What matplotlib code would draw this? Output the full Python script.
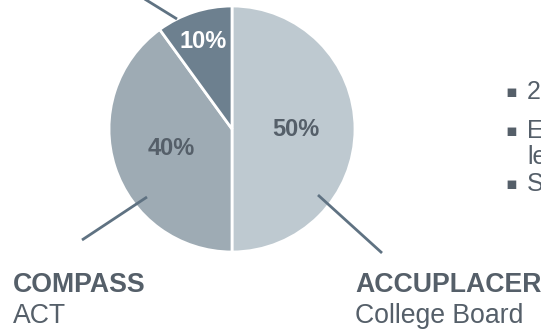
import numpy as np
import matplotlib.pyplot as plt

plt.rcParams['font.family'] = ['Liberation Sans', 'DejaVu Sans']

shares = [50, 40, 10]
tests = ['ACCUPLACER', 'COMPASS', 'Other']
vendors = ['College Board', 'ACT', '']
colors = ['#bec9d0', '#9eabb4', '#6d808f']
pct_colors = ['#555f69', '#555f69', 'white']
bullets = ['2', 'E', 'le', 'S']

W, H = 541, 333
fig = plt.figure(figsize=(W / 100, H / 100), dpi=100)
ax = fig.add_axes([0, 0, 1, 1])
ax.set_xlim(0, W)
ax.set_ylim(0, H)
ax.set_aspect('equal')
ax.axis('off')

cx, cy, r = 232, H - 129, 123
wedges, texts, autotexts = ax.pie(
    shares, colors=colors, startangle=90, counterclock=False,
    center=(cx, cy), radius=r, autopct=lambda p: f'{p:.0f}%',
    pctdistance=0.52, wedgeprops=dict(edgecolor='white', linewidth=2),
    textprops=dict(fontsize=17, fontweight='bold'))
ax.set_xlim(0, W)
ax.set_ylim(0, H)

for t, c, s in zip(autotexts, pct_colors, shares):
    t.set_color(c)
    if s < 20:
        x, y = t.get_position()
        k = 0.75 / 0.52
        t.set_position((cx + (x - cx) * k, cy + (y - cy) * k))

# leader lines (pixel coords, y from top)
line_col = '#5f7282'
leaders = [((143, -2), (177, 19)), ((82, 240), (147, 197)), ((318, 195), (382, 253))]
for (x0, y0), (x1, y1) in leaders:
    ax.plot([x0, x1], [H - y0, H - y1], color=line_col, lw=2, solid_capstyle='butt')

txt_col = '#555f69'
ax.text(13, H - 285, tests[1], fontsize=19.2, fontweight='bold', color=txt_col, va='center')
ax.text(13, H - 316, vendors[1], fontsize=19.2, color=txt_col, va='center')
ax.text(355, H - 285, tests[0], fontsize=19.2, fontweight='bold', color=txt_col, va='center')
ax.text(355, H - 316, vendors[0], fontsize=19.2, color=txt_col, va='center')

# bullet list, cut off at the right edge as in the source
rows = [(92, True), (131, True), (157, False), (184, True)]
for (y, mark), s in zip(rows, bullets):
    if mark:
        ax.text(505, H - y, '\u25aa', fontsize=12.5, color=txt_col, va='center', family=['DejaVu Sans'])
    ax.text(527, H - y, s, fontsize=18, color=txt_col, va='center')

fig.savefig('out.png', dpi=100)
